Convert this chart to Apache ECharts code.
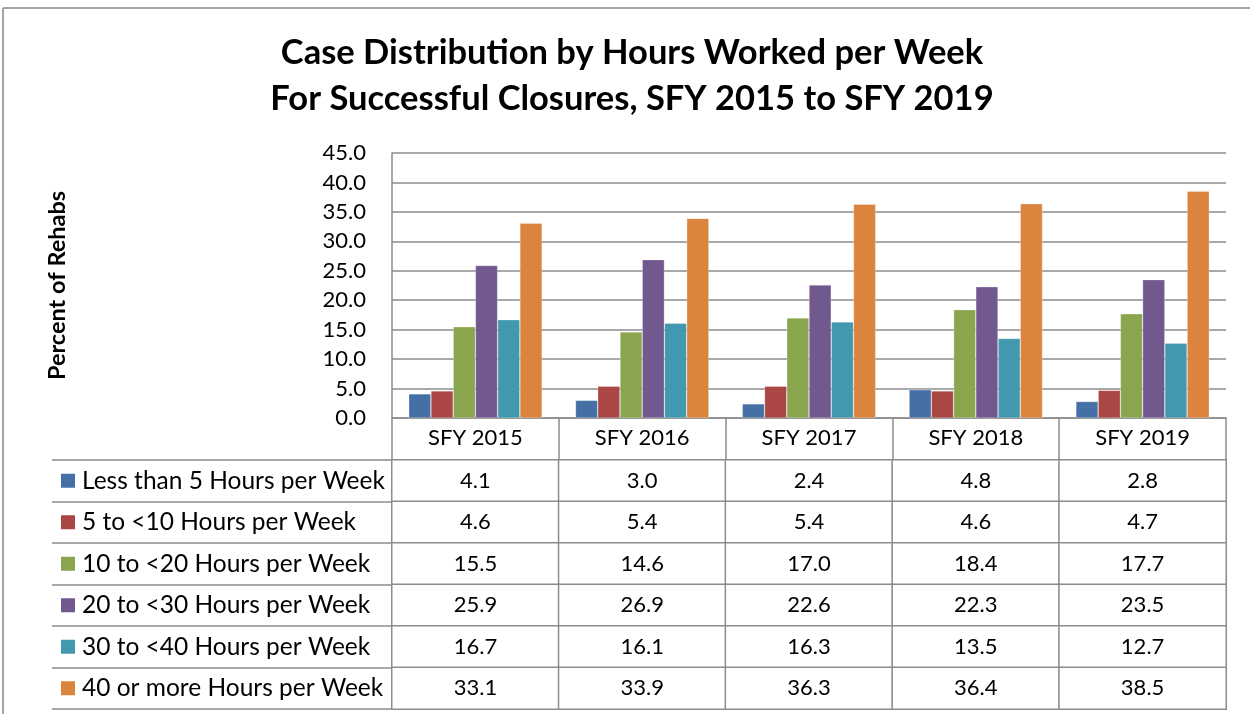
<!DOCTYPE html>
<html>
<head>
<meta charset="utf-8">
<script src="https://cdn.jsdelivr.net/npm/echarts@6.0.0/dist/echarts.min.js"></script>
<style>
  html, body { margin: 0; padding: 0; background: #fff; }
  #chart { width: 1250px; height: 714px; }
</style>
</head>
<body>
<div id="chart"></div>
<script>
// --- Data ---
const years = ['SFY 2015', 'SFY 2016', 'SFY 2017', 'SFY 2018', 'SFY 2019'];
const seriesNames = [
    'Less than 5 Hours per Week',
    '5 to <10 Hours per Week',
    '10 to <20 Hours per Week',
    '20 to <30 Hours per Week',
    '30 to <40 Hours per Week',
    '40 or more Hours per Week'
];
const lessThan5 = [4.1, 3.0, 2.4, 4.8, 2.8];
const from5to10 = [4.6, 5.4, 5.4, 4.6, 4.7];
const from10to20 = [15.5, 14.6, 17.0, 18.4, 17.7];
const from20to30 = [25.9, 26.9, 22.6, 22.3, 23.5];
const from30to40 = [16.7, 16.1, 16.3, 13.5, 12.7];
const fortyPlus = [33.1, 33.9, 36.3, 36.4, 38.5];
const seriesValues = [lessThan5, from5to10, from10to20, from20to30, from30to40, fortyPlus];

// --- Styling ---
const palette = ['#4470a6', '#aa4643', '#89a54e', '#71588f', '#4198af', '#db843d'];
const FONT = 'Lato, "Open Sans", sans-serif';
const LINE = '#8c8c8c';

const chart = echarts.init(document.getElementById('chart'));

// table cells: [yearIndex, seriesIndex, value]
const tableCells = [];
seriesValues.forEach((vals, si) => {
    vals.forEach((v, yi) => tableCells.push([yi, si, v]));
});

const rich = { g: { width: 7 } };
palette.forEach((c, i) => {
    rich['s' + i] = { width: 14, height: 14, backgroundColor: c };
});

const option = {
    animation: false,
    textStyle: { fontFamily: FONT },
    title: {
        text: 'Case Distribution by Hours Worked per Week\nFor Successful Closures, SFY 2015 to SFY 2019',
        left: 627,
        top: 25,
        textAlign: 'center',
        textStyle: { fontFamily: FONT, fontSize: 34.5, fontWeight: 'bold', color: '#000', lineHeight: 46 }
    },
    grid: [
        { left: 392, right: 24, top: 153, bottom: 296 },
        { left: 392, right: 24, top: 460, bottom: 5 }
    ],
    xAxis: [
        {
            type: 'category',
            gridIndex: 0,
            data: years,
            axisLine: { lineStyle: { color: LINE, width: 1.5 } },
            axisTick: { show: true, length: 42, interval: 0, lineStyle: { color: LINE, width: 1.5 } },
            axisLabel: { color: '#000', fontSize: 22, margin: 9, fontFamily: FONT }
        },
        {
            type: 'category',
            gridIndex: 1,
            data: years,
            show: false
        }
    ],
    yAxis: [
        {
            type: 'value',
            gridIndex: 0,
            min: 0,
            max: 45,
            interval: 5,
            name: 'Percent of Rehabs',
            nameLocation: 'middle',
            nameRotate: 90,
            nameGap: 323,
            nameTextStyle: { fontFamily: FONT, fontSize: 23.5, fontWeight: 'bold', color: '#000' },
            axisLine: { show: true, lineStyle: { color: LINE, width: 1.5 } },
            axisTick: { show: false },
            axisLabel: { color: '#000', fontSize: 22, margin: 26, fontFamily: FONT, formatter: v => v.toFixed(1) },
            splitLine: { lineStyle: { color: LINE, width: 1.5 } }
        },
        {
            type: 'category',
            gridIndex: 1,
            data: seriesNames,
            inverse: true,
            axisLine: { show: false },
            axisTick: { show: true, length: 340, lineStyle: { color: LINE, width: 1.5 } },
            axisLabel: {
                align: 'left',
                margin: 331,
                color: '#000',
                fontSize: 24.5,
                fontFamily: FONT,
                formatter: (v, i) => '{s' + i + '|}{g|}' + v,
                rich: rich
            },
            splitLine: { show: false }
        },
        {
            // left edge of the legend column
            type: 'category',
            gridIndex: 1,
            data: seriesNames,
            inverse: true,
            offset: 340,
            axisLine: { show: true, lineStyle: { color: LINE, width: 1.5 } },
            axisTick: { show: false },
            axisLabel: { show: false }
        }
    ],
    series: seriesNames.map((name, i) => ({
        name: name,
        type: 'bar',
        xAxisIndex: 0,
        yAxisIndex: 0,
        data: seriesValues[i],
        barGap: '0%',
        barCategoryGap: '20%',
        itemStyle: { color: palette[i], borderColor: 'rgba(255,255,255,0.45)', borderWidth: 0.6 }
    })).concat([{
        type: 'heatmap',
        xAxisIndex: 1,
        yAxisIndex: 1,
        data: tableCells,
        itemStyle: { color: '#fff', borderColor: LINE, borderWidth: 1.5 },
        label: {
            show: true,
            color: '#000',
            fontSize: 22,
            fontFamily: FONT,
            formatter: p => p.value[2].toFixed(1)
        },
        emphasis: { disabled: true }
    }]),
    graphic: [
        // outer chart frame (top and left edges visible)
        { type: 'line', shape: { x1: 3, y1: 8, x2: 1250, y2: 8 }, style: { stroke: '#878787', lineWidth: 1.5 } },
        { type: 'line', shape: { x1: 3, y1: 8, x2: 3, y2: 714 }, style: { stroke: '#878787', lineWidth: 1.5 } }
    ]
};

chart.setOption(option);
</script>
</body>
</html>
